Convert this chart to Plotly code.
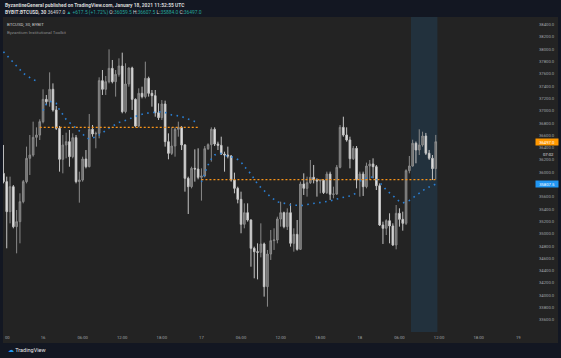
import plotly.graph_objects as go
import pandas as pd

# ---------------- data ----------------
start_time = "2021-01-15 18:00"
n_bars = 132
times = pd.date_range(start_time, periods=n_bars, freq="30min")

opens = [35983, 35848, 35360, 35766, 35116, 35197, 35522, 35848, 36227, 36281, 36568, 36606,
         36823, 37186, 37148, 37349, 37013, 36715, 36211, 36444, 36498, 36254, 36563, 35848,
         35875, 36216, 36091, 36699, 36623, 36633, 37490, 37349, 37473, 37690, 37473, 37593,
         37728, 36986, 37436, 37696, 37186, 36753, 37284, 37230, 37528, 37284, 37246, 36969,
         36888, 37110, 36498, 36308, 36427, 36699, 36726, 36444, 35902, 35766, 36064, 36053,
         35918, 35940, 36384, 36449, 36699, 36460, 36438, 36297, 36281, 36265, 35875, 35739,
         35560, 35154, 35343, 35224, 34764, 34709, 34699, 34834, 34140, 34671, 34888, 34899,
         35240, 35343, 35116, 35343, 34845, 34991, 34747, 35810, 35739, 35831, 35918, 35875,
         35858, 35869, 35669, 35972, 35642, 35647, 36081, 36731, 36606, 36525, 36221, 36390,
         35875, 35972, 35766, 36102, 36135, 36091, 35782, 35143, 35089, 35213, 35127, 34818,
         35333, 35235, 35170, 36026, 36102, 36472, 36363, 36444, 36590, 36309, 36228, 36059.5]
highs = [36444, 35929, 35929, 35793, 35387, 35658, 35875, 36417, 36606, 36823, 36731, 36861,
         37349, 37257, 37625, 37446, 37078, 36753, 36606, 36644, 36688, 36633, 36606, 36010,
         36254, 36362, 36948, 36769, 36661, 37544, 37663, 37566, 37999, 37826, 37663, 37853,
         37945, 37772, 37707, 37717, 37202, 37365, 37392, 37799, 37555, 37338, 37338, 37121,
         37175, 37165, 36633, 36731, 36731, 36823, 36753, 36460, 35929, 36091, 36373, 36390,
         36064, 36427, 36471, 36731, 36731, 36498, 36579, 36335, 36417, 36281, 35994, 35766,
         35685, 35495, 35495, 35235, 34791, 34845, 35170, 34856, 34737, 35062, 35089, 35278,
         35522, 35360, 35414, 35495, 35089, 35224, 35848, 35983, 35929, 36200, 36119, 35902,
         35886, 35886, 36010, 36010, 35766, 36119, 36769, 36904, 36731, 36579, 36427, 36427,
         36010, 36010, 36157, 36200, 36227, 36119, 35820, 35197, 35235, 35333, 35170, 35468,
         35414, 35360, 36048, 36265, 36530, 36500, 36699, 36660, 36640, 36363, 36281, 36607.5]
lows = [35820, 34764, 35170, 35089, 34682, 34845, 35495, 35820, 35956, 36254, 36417, 36525,
        36796, 37094, 37067, 36986, 36688, 36010, 35983, 36227, 36091, 36227, 35820, 35506,
        35848, 36064, 36081, 36579, 36390, 36552, 37257, 37257, 37446, 37446, 37230, 37555,
        36959, 36959, 37392, 37013, 36731, 36731, 37202, 37202, 37230, 37067, 36904, 36850,
        36850, 36417, 36211, 36281, 36254, 36579, 36362, 35685, 35322, 35739, 35848, 35886,
        35539, 35918, 36362, 36173, 36427, 36362, 36281, 36010, 36227, 35848, 35658, 35495,
        35008, 35089, 35197, 34465, 34276, 34259, 34617, 33978, 33815, 34574, 34737, 34845,
        35116, 35089, 35062, 34791, 34709, 34726, 34737, 35631, 35604, 35810, 35820, 35604,
        35658, 35647, 35647, 35550, 35577, 35631, 36064, 36579, 36498, 36064, 36200, 35739,
        35604, 35615, 35739, 35875, 35902, 35712, 35127, 34834, 34980, 34845, 34802, 34747,
        35116, 35051, 35143, 35983, 36091, 36146, 36281, 36416, 36281, 36200, 35875, 35884.0]
closes = [35848, 35360, 35766, 35116, 35197, 35522, 35848, 36227, 36281, 36568, 36606, 36823,
          37186, 37148, 37349, 37013, 36715, 36211, 36444, 36498, 36254, 36563, 35848, 35875,
          36216, 36091, 36699, 36623, 36633, 37490, 37349, 37473, 37690, 37473, 37593, 37728,
          36986, 37436, 37696, 37186, 36753, 37284, 37230, 37528, 37284, 37246, 36969, 36888,
          37110, 36498, 36308, 36427, 36699, 36726, 36444, 35902, 35766, 36064, 36053, 35918,
          35940, 36384, 36449, 36699, 36460, 36438, 36297, 36281, 36265, 35875, 35739, 35560,
          35154, 35343, 35224, 34764, 34709, 34699, 34834, 34140, 34671, 34888, 34899, 35240,
          35343, 35116, 35343, 34845, 34991, 34747, 35810, 35739, 35831, 35918, 35875, 35858,
          35869, 35669, 35972, 35642, 35647, 36081, 36731, 36606, 36525, 36221, 36390, 35875,
          35972, 35766, 36102, 36135, 36091, 35782, 35143, 35089, 35213, 35127, 34818, 35333,
          35235, 35170, 36026, 36102, 36472, 36363, 36444, 36590, 36309, 36228, 36059.5, 36497.0]

# daily VWAP (resets every session)
vwap_jan15 = [37961, 37900, 37842, 37780, 37725, 37660, 37610, 37575, 37540, 37505, 37487, 37473]
vwap_jan16 = [37002, 37111, 37151, 37143, 37122, 37013, 36940, 36859, 36810, 36769, 36720, 36672,
              36623, 36566, 36541, 36558, 36574, 36607, 36639, 36680, 36720, 36745, 36777, 36810,
              36826, 36842, 36859, 36891, 36911, 36927, 36940, 36960, 36964, 36969, 36977, 36981,
              36985, 36972, 36948, 36932, 36927, 36919, 36907, 36883, 36862, 36842, 36826, 36813]
vwap_jan17 = [35842, 35988, 36119, 36217, 36281, 36306, 36306, 36281, 36257, 36249, 36244, 36208,
              36167, 36094, 36037, 35972, 35891, 35810, 35753, 35696, 35639, 35598, 35558, 35517,
              35509, 35501, 35485, 35468, 35464, 35457, 35452, 35460, 35477, 35485, 35493, 35501,
              35504, 35512, 35525, 35533, 35550, 35566, 35582, 35594, 35607, 35615, 35639, 35664]
vwap_jan18 = [35859, 35875, 35907, 35915, 35924, 35891, 35842, 35777, 35712, 35664, 35615, 35566,
              35525, 35501, 35517, 35542, 35582, 35623, 35664, 35704, 35737, 35761, 35785, 35807.5]

# previous-close levels (orange dotted)
level_prices = [36731, 35880]
level_start_bar = [11, 60]
level_end_bar = [59, 131]

price_ticks = [33600, 33800, 34000, 34200, 34400, 34600, 34800, 35000, 35200, 35400, 35600,
               35800, 36000, 36200, 36400, 36600, 36800, 37000, 37200, 37400, 37600, 37800,
               38000, 38200, 38400]
time_ticks = ["2021-01-16 00:00", "2021-01-16 06:00", "2021-01-16 12:00", "2021-01-16 18:00",
              "2021-01-17 00:00", "2021-01-17 06:00", "2021-01-17 12:00", "2021-01-17 18:00",
              "2021-01-18 00:00", "2021-01-18 06:00", "2021-01-18 12:00", "2021-01-18 18:00",
              "2021-01-19 00:00"]
time_tick_labels = ["16", "06:00", "12:00", "18:00", "17", "06:00", "12:00", "18:00",
                    "18", "06:00", "12:00", "18:00", "19"]

session_band = ["2021-01-18 07:45", "2021-01-18 11:45"]
last_price = 36497.0
vwap_last = 35807.5

# ---------------- figure ----------------
W, H = 561, 358
PL, PR, PT, PB = 3, 532, 17, 332  # plot area in pixels


def px(x):
    return (x - PL) / (PR - PL)


def py(y):
    return (PB - y) / (PB - PT)


FONT = "Roboto"
BLUE = "#2a7fd4"
ORANGE = "#f7931a"

fig = go.Figure()

fig.add_trace(go.Candlestick(
    x=times, open=opens, high=highs, low=lows, close=closes,
    increasing=dict(line=dict(color="#8a8a8a", width=1), fillcolor="#6c6c6c"),
    decreasing=dict(line=dict(color="#c4c4c4", width=1), fillcolor="#e8e8e8"),
    whiskerwidth=0, showlegend=False, hoverinfo="skip"))

for seg, sl in [(vwap_jan15, slice(0, 12)), (vwap_jan16, slice(12, 60)),
                (vwap_jan17, slice(60, 108)), (vwap_jan18, slice(108, 132))]:
    fig.add_trace(go.Scatter(x=times[sl], y=seg, mode="lines",
                             line=dict(color=BLUE, width=1.6, dash="1.6px,4.4px"),
                             showlegend=False, hoverinfo="skip"))

for p, a, b in zip(level_prices, level_start_bar, level_end_bar):
    fig.add_trace(go.Scatter(x=[times[a], times[b]], y=[p, p], mode="lines",
                             line=dict(color=ORANGE, width=1.2, dash="2px,2px"),
                             showlegend=False, hoverinfo="skip"))

shapes = [
    dict(type="rect", xref="paper", yref="paper", x0=px(3), x1=px(558), y0=py(343), y1=py(17),
         fillcolor="#232323", line=dict(width=0), layer="below"),
    dict(type="rect", xref="x", yref="paper", x0=session_band[0], x1=session_band[1], y0=0, y1=1,
         fillcolor="rgba(33,150,243,0.13)", line=dict(width=0), layer="below"),
]

annotations = [
    dict(x=px(3), y=py(5), xref="paper", yref="paper", xanchor="left", yanchor="middle",
         text="<b>ByzantineGeneral published on TradingView.com, January 18, 2021 11:52:55 UTC</b>",
         showarrow=False, font=dict(family=FONT, size=4.9, color="#d8d8d8")),
    dict(x=px(3), y=py(12), xref="paper", yref="paper", xanchor="left", yanchor="middle",
         text=("<b>BYBIT:BTCUSD, 30</b> 36497.0 <span style='color:#26a69a'>▲ +617.5 (+1.72%)</span> "
               "O:<span style='color:#26a69a'>36059.5</span> H:<span style='color:#26a69a'>36607.5</span> "
               "L:<span style='color:#26a69a'>35884.0</span> C:<span style='color:#26a69a'>36497.0</span>"),
         showarrow=False, font=dict(family=FONT, size=4.9, color="#d8d8d8")),
    dict(x=px(5), y=py(24), xref="paper", yref="paper", xanchor="left", yanchor="middle",
         text="BTCUSD, 30, BYBIT", showarrow=False,
         font=dict(family=FONT, size=4.4, color="#c8c8c8")),
    dict(x=px(5), y=py(32), xref="paper", yref="paper", xanchor="left", yanchor="middle",
         text="Byzantium Institutional Toolkit", showarrow=False,
         font=dict(family=FONT, size=4.4, color="#8a8a8a")),
    dict(x=px(7), y=py(337), xref="paper", yref="paper", xanchor="center", yanchor="middle",
         text="00", showarrow=False, font=dict(family=FONT, size=4.2, color="#a0a3aa")),
    dict(x=px(547), y=py(142), xref="paper", yref="paper", xanchor="center", yanchor="middle",
         text=f"{last_price:.1f}", showarrow=False, bgcolor="#ff9800", borderpad=0.6,
         width=21, font=dict(family=FONT, size=4.2, color="#ffffff")),
    dict(x=px(548), y=py(154), xref="paper", yref="paper", xanchor="center", yanchor="middle",
         text="07:02", showarrow=False, font=dict(family=FONT, size=4.2, color="#e0e0e0")),
    dict(x=px(547), y=py(184.3), xref="paper", yref="paper", xanchor="center", yanchor="middle",
         text=f"{vwap_last:.1f}", showarrow=False, bgcolor="#2196f3", borderpad=0.6,
         width=21, font=dict(family=FONT, size=4.2, color="#ffffff")),
    dict(x=px(6), y=py(349.5), xref="paper", yref="paper", xanchor="left", yanchor="middle",
         text="<span style='color:#2196f3'>☁</span> TradingView", showarrow=False,
         font=dict(family=FONT, size=5.5, color="#e8e8e8")),
]

fig.update_layout(
    width=W, height=H,
    margin=dict(l=PL, r=W - PR, t=PT, b=H - PB, pad=0),
    paper_bgcolor="#131722", plot_bgcolor="rgba(0,0,0,0)",
    shapes=shapes, annotations=annotations,
    xaxis=dict(type="date", range=["2021-01-15 17:56", "2021-01-19 02:05"],
               rangeslider=dict(visible=False), showgrid=False, zeroline=False,
               showline=False, ticks="", tickvals=time_ticks, ticktext=time_tick_labels,
               tickfont=dict(family=FONT, size=4.2, color="#a0a3aa"), ticklabelstandoff=2),
    yaxis=dict(side="right", range=[33403, 38525], showgrid=False, zeroline=False,
               showline=False, ticks="", tickvals=price_ticks, tickformat=".1f",
               tickfont=dict(family=FONT, size=4.2, color="#a0a3aa"), ticklabelstandoff=6),
    hovermode=False,
)

fig.write_html("out.html", config={"displayModeBar": False},
               post_script="document.body.style.margin='0';document.body.style.overflow='hidden';")
